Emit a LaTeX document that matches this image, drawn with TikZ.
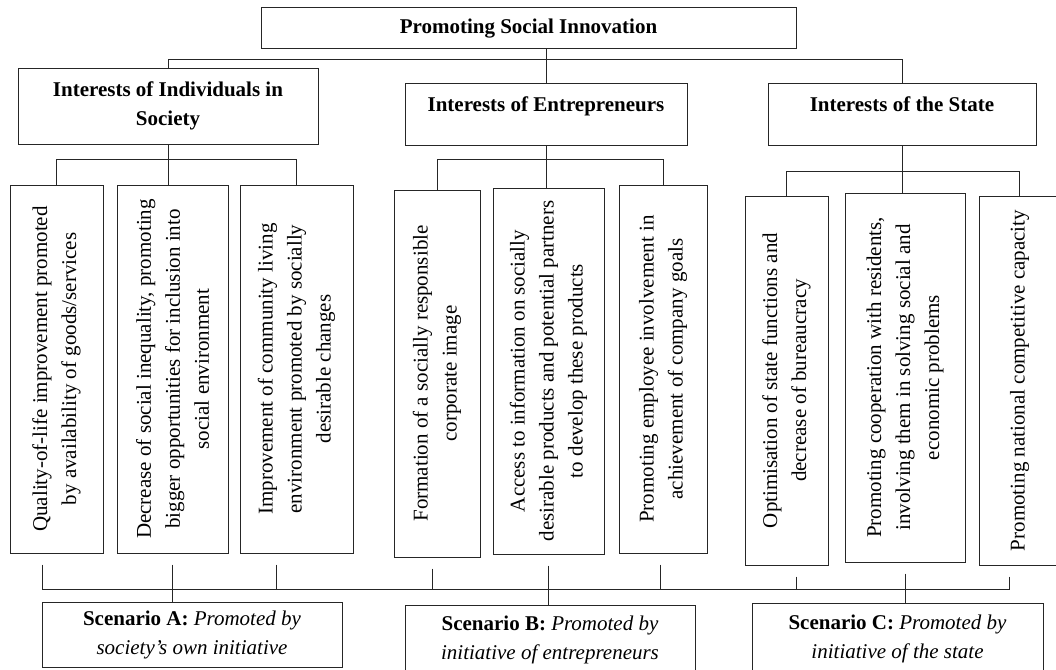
\documentclass[tikz,border=0pt]{standalone}
\usepackage{fontspec}
\setmainfont{Liberation Serif}
\begin{document}
\begin{tikzpicture}
        [x=1pt,y=-1pt,
        font=\fontsize{21}{29}\selectfont,
        box/.style={draw=black!85,line width=1pt,inner sep=0pt,align=center},
        head/.style={box,font=\fontsize{21}{29}\selectfont\bfseries},
        vbox/.style={draw=black!85,line width=1pt,inner sep=0pt},
        vtext/.style={rotate=90,align=center,inner sep=0pt},
        lnk/.style={draw=black!85,line width=1pt}]
        \useasboundingbox (0,0) rectangle (1056,669);
        \node (top) at (528.5,28.5) [head,minimum width=535,minimum height=41] {Promoting Social Innovation};
        \node (ind) at (168,106) [head,minimum width=300,minimum height=76] {Interests of Individuals in\\Society};
        \node (ent) at (546,114) [head,minimum width=282,minimum height=62,text depth=20pt] {Interests of Entrepreneurs};
        \node (st) at (902,114) [head,minimum width=268,minimum height=62,text depth=20pt] {Interests of the State};
        \node (q1) at (56.5,369) [vbox,minimum width=93,minimum height=368] {};
        \node (q2) at (172.5,369) [vbox,minimum width=111,minimum height=368] {};
        \node (q3) at (296.5,369) [vbox,minimum width=113,minimum height=368] {};
        \node (e1) at (437,373.5) [vbox,minimum width=86,minimum height=367] {};
        \node (e2) at (548.5,371) [vbox,minimum width=111,minimum height=366] {};
        \node (e3) at (663,369) [vbox,minimum width=88,minimum height=368] {};
        \node (s1) at (786.5,380.5) [vbox,minimum width=83,minimum height=369] {};
        \node (s2) at (905,377.5) [vbox,minimum width=120,minimum height=369] {};
        \node (s3) at (1019.5,380.5) [vbox,minimum width=81,minimum height=369] {};
        \node (q1t) at (q1) [vtext] {Quality-of-life improvement promoted\\by availability of goods/services};
        \node (q2t) at (q2) [vtext] {Decrease of social inequality, promoting\\bigger opportunities for inclusion into\\social environment};
        \node (q3t) at (q3) [vtext] {Improvement of community living\\environment promoted by socially\\desirable changes};
        \node (e1t) at (e1) [vtext] {Formation of a socially responsible\\corporate image};
        \node (e2t) at (e2) [vtext] {Access to information on socially\\desirable products and potential partners\\to develop these products};
        \node (e3t) at (e3) [vtext] {Promoting employee involvement in\\achievement of company goals};
        \node (s1t) at (s1) [vtext] {Optimisation of state functions and\\decrease of bureaucracy};
        \node (s2t) at (s2) [vtext] {Promoting cooperation with residents,\\involving them in solving social and\\economic problems};
        \node (s3t) at (s3) [vtext] {Promoting national competitive capacity};
        \node (scA) at (192,634.5) [box,minimum width=300,minimum height=65] {\textbf{Scenario A:} \textit{Promoted by}\\\textit{society’s own initiative}};
        \node (scB) at (550,640) [box,minimum width=290,minimum height=70] {\textbf{Scenario B:} \textit{Promoted by}\\\textit{initiative of entrepreneurs}};
        \node (scC) at (897.5,639) [box,minimum width=291,minimum height=72] {\textbf{Scenario C:} \textit{Promoted by}\\\textit{initiative of the state}};
        \coordinate (busL) at (42,589);
        \coordinate (busR) at (1009.5,589);
        \draw[lnk] (ent.north) -- (ent.north |- top.south);
        \draw[lnk] (ind.north) -- ++(0,-8) -| (st.north);
        \draw[lnk] (ind.south) -- (ind.south |- q2.north);
        \draw[lnk] (q1.north) -- ++(0,-25) -| (q3.north);
        \draw[lnk] (ent.south) -- (ent.south |- e2.north);
        \draw[lnk] (e1.north) -- ++(0,-30) -| (e3.north);
        \draw[lnk] (st.south) -- (st.south |- s2.north);
        \draw[lnk] (s1.north) -- ++(0,-24) -| (s3.north);
        \draw[lnk] (busL) -- (busR);
        \foreach \b/\dx in {q1/-14,q2/0,q3/-20,e1/-5,e2/0,e3/-3,s1/10,s2/0,s3/-10}{
          \path ([xshift=\dx]\b.south) coordinate (t);
          \draw[lnk] ([yshift=-11]t) -- (t |- busL);
        }
        \draw[lnk] (q2.south |- busL) -- (q2.south |- scA.north);
        \draw[lnk] (e2.south |- busL) -- (e2.south |- scB.north);
        \draw[lnk] (s2.south |- busL) -- (s2.south |- scC.north);
\end{tikzpicture}
\end{document}
